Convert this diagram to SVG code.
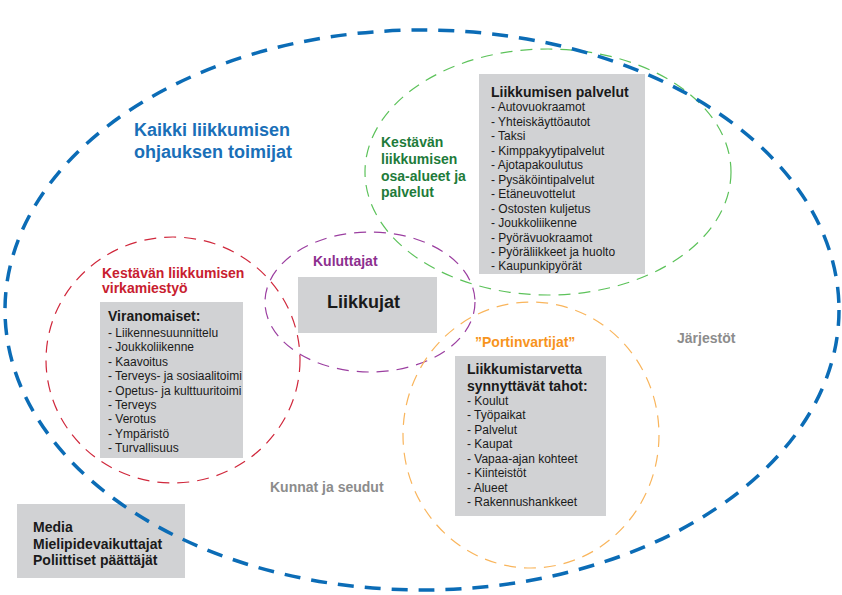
<svg xmlns="http://www.w3.org/2000/svg" width="842" height="595" viewBox="0 0 842 595">
<style>
text{font-family:"Liberation Sans",Arial,sans-serif}
.b{font-weight:bold}
.t14{font-size:14px}
.t12{font-size:12px;fill:#1a1a1a}
.ttl{font-size:14px;font-weight:bold;fill:#1a1a1a}
.box{fill:#d1d2d4}
.thin{fill:none;stroke-width:1.2;stroke-dasharray:12 8}
.lbl{font-size:14px;font-weight:bold}
</style>
<rect width="842" height="595" fill="#ffffff"/>

<g id="sustainable-areas">
<ellipse cx="548" cy="172" rx="183" ry="123" class="thin" stroke="#5cc25a"/>
<text class="lbl" fill="#1e7b3a" x="381" y="147">Kestävän</text>
<text class="lbl" fill="#1e7b3a" x="381" y="164">liikkumisen</text>
<text class="lbl" fill="#1e7b3a" x="381" y="181">osa-alueet ja</text>
<text class="lbl" fill="#1e7b3a" x="381" y="197">palvelut</text>
</g>

<g id="officials">
<ellipse cx="173" cy="360" rx="127" ry="123" class="thin" stroke="#d0283c"/>
<text class="lbl" fill="#c8202f" x="102" y="278">Kestävän liikkumisen</text>
<text class="lbl" fill="#c8202f" x="102" y="293">virkamiestyö</text>
</g>

<g id="consumers">
<ellipse cx="370" cy="302" rx="105" ry="70" class="thin" stroke="#9b3ea0"/>
<text class="lbl" fill="#8d2f8f" x="313" y="266">Kuluttajat</text>
</g>

<g id="gatekeepers">
<ellipse cx="531" cy="435" rx="128" ry="133" class="thin" stroke="#f9b55c"/>
<text class="lbl" fill="#f7941d" x="475" y="347">”Portinvartijat”</text>
</g>

<g id="services">
<rect class="box" x="479" y="74" width="166" height="200"/>
<text class="ttl" x="491" y="97">Liikkumisen palvelut</text>
<text class="t12" x="491" y="111">- Autovuokraamot</text>
<text class="t12" x="491" y="125.5">- Yhteiskäyttöautot</text>
<text class="t12" x="491" y="140">- Taksi</text>
<text class="t12" x="491" y="154.5">- Kimppakyytipalvelut</text>
<text class="t12" x="491" y="169">- Ajotapakoulutus</text>
<text class="t12" x="491" y="183.5">- Pysäköintipalvelut</text>
<text class="t12" x="491" y="198">- Etäneuvottelut</text>
<text class="t12" x="491" y="212.5">- Ostosten kuljetus</text>
<text class="t12" x="491" y="227">- Joukkoliikenne</text>
<text class="t12" x="491" y="241.5">- Pyörävuokraamot</text>
<text class="t12" x="491" y="256">- Pyöräliikkeet ja huolto</text>
<text class="t12" x="491" y="270">- Kaupunkipyörät</text>
</g>

<g id="authorities">
<rect class="box" x="100" y="302" width="143" height="156"/>
<text class="ttl" x="108" y="321">Viranomaiset:</text>
<text class="t12" x="108" y="336.5">- Liikennesuunnittelu</text>
<text class="t12" x="108" y="351">- Joukkoliikenne</text>
<text class="t12" x="108" y="365.5">- Kaavoitus</text>
<text class="t12" x="108" y="380">- Terveys- ja sosiaalitoimi</text>
<text class="t12" x="108" y="394.5">- Opetus- ja kulttuuritoimi</text>
<text class="t12" x="108" y="408.5">- Terveys</text>
<text class="t12" x="108" y="423">- Verotus</text>
<text class="t12" x="108" y="437.5">- Ympäristö</text>
<text class="t12" x="108" y="452">- Turvallisuus</text>
</g>

<g id="movers">
<rect class="box" x="298" y="277" width="139" height="56"/>
<text class="b" font-size="18" fill="#1a1a1a" x="327" y="308">Liikkujat</text>
</g>

<g id="generators">
<rect class="box" x="455" y="356" width="151" height="160"/>
<text class="ttl" x="467" y="374">Liikkumistarvetta</text>
<text class="ttl" x="467" y="391">synnyttävät tahot:</text>
<text class="t12" x="467" y="404.5">- Koulut</text>
<text class="t12" x="467" y="419">- Työpaikat</text>
<text class="t12" x="467" y="433.5">- Palvelut</text>
<text class="t12" x="467" y="448">- Kaupat</text>
<text class="t12" x="467" y="462.5">- Vapaa-ajan kohteet</text>
<text class="t12" x="467" y="477">- Kiinteistöt</text>
<text class="t12" x="467" y="491.5">- Alueet</text>
<text class="t12" x="467" y="506">- Rakennushankkeet</text>
</g>

<g id="media">
<rect class="box" x="17" y="504" width="168" height="74"/>
<text class="ttl" x="33" y="532">Media</text>
<text class="ttl" x="33" y="549">Mielipidevaikuttajat</text>
<text class="ttl" x="33" y="565">Poliittiset päättäjät</text>
</g>

<g id="all-actors">
<ellipse cx="422" cy="310" rx="417" ry="280" fill="none" stroke="#0b6cb6" stroke-width="3.5" stroke-dasharray="16 11"/>
<text class="b" font-size="18" fill="#1a6fb8" x="134" y="136">Kaikki liikkumisen</text>
<text class="b" font-size="18" fill="#1a6fb8" x="134" y="158">ohjauksen toimijat</text>
</g>

<g id="organisations">
<text class="lbl" fill="#8c8c8c" x="677" y="343">Järjestöt</text>
</g>

<g id="municipalities">
<text class="lbl" fill="#8c8c8c" x="270" y="492">Kunnat ja seudut</text>
</g>
</svg>
